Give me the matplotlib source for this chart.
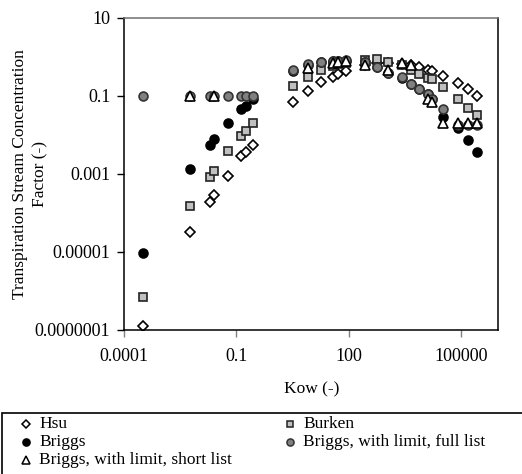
import numpy as np
import matplotlib
matplotlib.use('Agg')
import matplotlib.pyplot as plt
from matplotlib.lines import Line2D
from matplotlib.patches import Rectangle
from matplotlib import font_manager

# pick a Times-like face from what is installed
installed = {f.name for f in font_manager.fontManager.ttflist}
serif_pref = ['Liberation Serif', 'Tinos', 'Times New Roman', 'Nimbus Roman',
              'TeX Gyre Termes', 'STIXGeneral']
serif = next((f for f in serif_pref if f in installed), 'DejaVu Serif')
plt.rcParams['font.family'] = [serif, 'DejaVu Serif']

# log Kow of the compounds, low to high
log_kow = [-3.50, -2.23, -1.72, -1.61, -1.23, -0.88, -0.74, -0.56,
           0.51, 0.92, 1.26, 1.58, 1.72, 1.93, 2.43, 2.77, 3.04,
           3.42, 3.66, 3.87, 4.12, 4.22, 4.53, 4.93, 5.19, 5.42]

# TSCF per model, one value per compound (nan = not in the list)
hsu = [1.3e-7, 3.2e-5, 1.9e-4, 2.8e-4, 8.9e-4, 2.8e-3, 3.6e-3, 5.5e-3,
       0.068, 0.135, 0.22, 0.31, 0.36, 0.43, 0.62, 0.68, 0.69,
       0.67, 0.62, 0.55, 0.45, 0.42, 0.33, 0.21, 0.145, 0.10]
burken = [7.1e-7, 1.5e-4, 8.3e-4, 1.2e-3, 3.8e-3, 9.5e-3, 0.0126, 0.020,
          0.18, 0.31, 0.45, 0.58, 0.65, 0.71, 0.83, 0.85, 0.74,
          0.62, 0.46, 0.37, 0.28, 0.27, 0.17, 0.085, 0.050, 0.032]
briggs = [9.3e-6, 1.3e-3, 5.6e-3, 7.6e-3, 0.020, 0.045, 0.056, 0.083,
          0.42, 0.62, 0.72, 0.76, 0.76, 0.78, 0.72, 0.55, 0.39,
          0.29, 0.20, 0.15, 0.11, 0.085, 0.029, 0.0145, 0.0072, 0.0037]
briggs_full = [0.1, 0.1, 0.1, 0.1, 0.1, 0.1, 0.1, 0.1,
               0.45, 0.65, 0.74, 0.78, 0.78, 0.83, 0.74, 0.55, 0.39,
               0.30, 0.20, 0.148, 0.11, 0.085, 0.047, 0.0175, 0.0175, 0.0175]
nan = np.nan
briggs_short = [nan, 0.1, nan, 0.1, nan, nan, nan, nan,
                nan, 0.52, nan, 0.69, 0.72, 0.78, 0.62, nan, 0.46,
                0.68, 0.62, nan, 0.083, 0.069, 0.0195, 0.0195, 0.0195, 0.0195]

labels = ['Hsu', 'Burken', 'Briggs', 'Briggs, with limit, full list',
          'Briggs, with limit, short list']

styles = {
    'Hsu': dict(marker='D', ms=4.6, mfc='white', mec='black'),
    'Burken': dict(marker='s', ms=6.0, mfc='#c0c0c0', mec='#222222'),
    'Briggs': dict(marker='o', ms=6.4, mfc='black', mec='black'),
    'Briggs, with limit, full list': dict(marker='o', ms=6.4, mfc='#808080', mec='#333333'),
    'Briggs, with limit, short list': dict(marker='^', ms=7.0, mfc='white', mec='black'),
}
series = [hsu, burken, briggs, briggs_full, briggs_short]

fs = 12.5

fig = plt.figure(figsize=(5.22, 4.74), dpi=100)
ax = fig.add_axes([0.2381, 0.3038, 0.7165, 0.6589])

kow = 10.0 ** np.array(log_kow)
for name, vals in zip(labels, series):
    ax.plot(kow, vals, linestyle='none', mew=1.2, **styles[name])

ax.set_xscale('log')
ax.set_yscale('log')
ax.set_xlim(1e-4, 1e6)
ax.set_ylim(1e-7, 10)
ax.set_xticks([1e-4, 1e-1, 1e2, 1e5], ['0.0001', '0.1', '100', '100000'])
ax.set_yticks([1e-7, 1e-5, 1e-3, 1e-1, 10],
              ['0.0000001', '0.00001', '0.001', '0.1', '10'])
ax.minorticks_off()
ax.tick_params(axis='both', direction='out', length=5, width=1,
               labelsize=13, pad=5)
ax.tick_params(axis='x', color='#808080', pad=8)
for side in ['left', 'bottom', 'right']:
    ax.spines[side].set_linewidth(1.1)
    ax.spines[side].set_color('black')
ax.spines['top'].set_color('#707070')
ax.spines['top'].set_linewidth(1.1)

ax.set_xlabel('Kow (-)', fontsize=fs, labelpad=12)
ax.set_ylabel('Transpiration Stream Concentration\nFactor (-)',
              fontsize=fs, linespacing=1.35)
ax.yaxis.set_label_coords(-0.204, 0.5)

# legend box below the plot
fig.add_artist(Rectangle((1.5 / 522, -0.05), 1.0, (474 - 413) / 474 + 0.05,
                         transform=fig.transFigure, fill=False,
                         edgecolor='black', linewidth=1.2))
slots = [(26, 423.5), (290, 423.5), (26, 441.7), (290, 441.7), (26, 460)]
for name, (px, py) in zip(labels, slots):
    st = dict(styles[name])
    st['ms'] = st['ms'] * 0.8
    fig.add_artist(Line2D([px / 522], [1 - py / 474], transform=fig.transFigure,
                          linestyle='none', mew=1.1, **st))
    fig.text((px + 13) / 522, 1 - py / 474, name, fontsize=fs,
             va='center', ha='left')

fig.savefig('out.png', dpi=100)
